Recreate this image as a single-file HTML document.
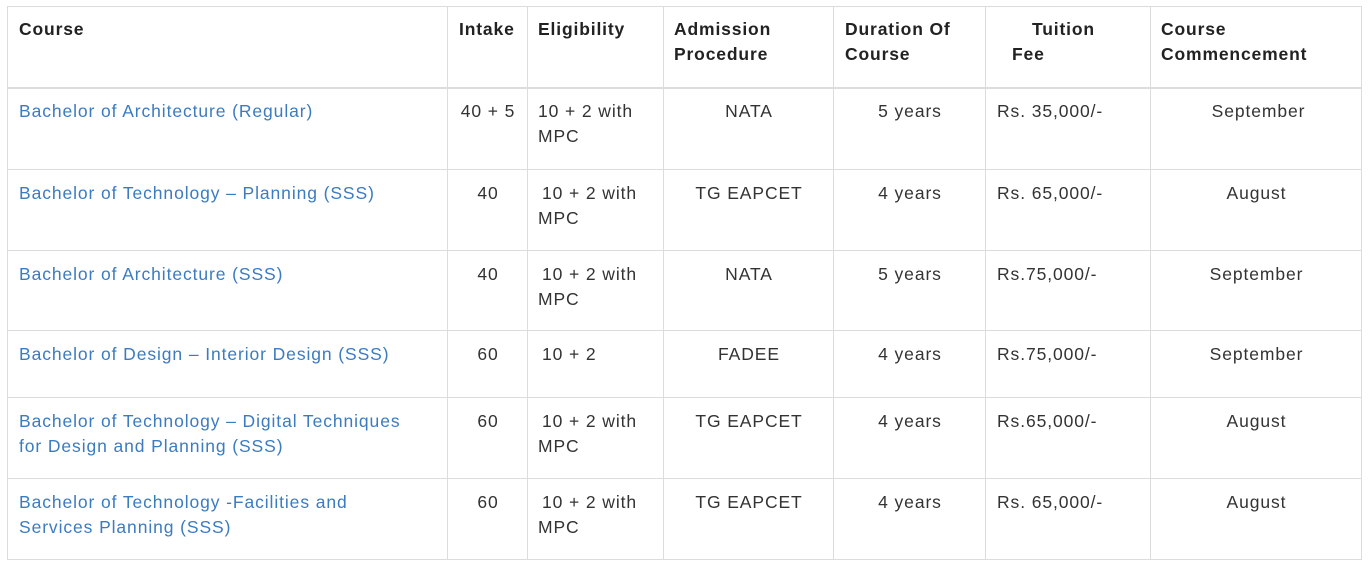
<!DOCTYPE html>
<html>
<head>
<meta charset="utf-8">
<style>
html,body{margin:0;padding:0;background:#fff;}
body{width:1370px;height:566px;position:relative;overflow:hidden;}
.h{position:absolute;height:1px;background:#dcdcdc;left:7px;width:1355px;}
.v{position:absolute;width:1px;background:#dcdcdc;top:6px;height:554px;}
.t{position:absolute;white-space:nowrap;font-family:"Liberation Sans",Arial,sans-serif;font-size:17.5px;letter-spacing:0.9px;line-height:25px;color:#333;}
.b{font-weight:bold;color:#222;letter-spacing:0.85px;}
.a{color:#3b7bc0;}
.c{text-align:center;}
</style>
</head>
<body>
<!-- horizontal lines -->
<div class="h" style="top:6px"></div>
<div class="h" style="top:87px;height:2px"></div>
<div class="h" style="top:169px"></div>
<div class="h" style="top:250px"></div>
<div class="h" style="top:330px"></div>
<div class="h" style="top:397px"></div>
<div class="h" style="top:478px"></div>
<div class="h" style="top:559px"></div>
<!-- vertical lines -->
<div class="v" style="left:7px"></div>
<div class="v" style="left:447px"></div>
<div class="v" style="left:527px"></div>
<div class="v" style="left:663px"></div>
<div class="v" style="left:833px"></div>
<div class="v" style="left:985px"></div>
<div class="v" style="left:1150px"></div>
<div class="v" style="left:1361px"></div>

<!-- header -->
<div class="t b" style="left:19px;top:17px">Course</div>
<div class="t b" style="left:459px;top:17px">Intake</div>
<div class="t b" style="left:538px;top:17px">Eligibility</div>
<div class="t b" style="left:674px;top:17px">Admission</div>
<div class="t b" style="left:674px;top:42px">Procedure</div>
<div class="t b" style="left:845px;top:17px">Duration Of</div>
<div class="t b" style="left:845px;top:42px">Course</div>
<div class="t b" style="left:1032px;top:17px">Tuition</div>
<div class="t b" style="left:1012px;top:42px">Fee</div>
<div class="t b" style="left:1161px;top:17px">Course</div>
<div class="t b" style="left:1161px;top:42px">Commencement</div>

<!-- row 1 -->
<div class="t a" style="left:19px;top:99px">Bachelor of Architecture (Regular)</div>
<div class="t c" style="left:448px;width:80px;top:99px">40 + 5</div>
<div class="t" style="left:538px;top:99px">10 + 2 with</div>
<div class="t" style="left:538px;top:124px">MPC</div>
<div class="t c" style="left:664px;width:170px;top:99px">NATA</div>
<div class="t c" style="left:834px;width:152px;top:99px">5 years</div>
<div class="t" style="left:997px;top:99px">Rs. 35,000/-</div>
<div class="t c" style="left:1153px;width:211px;top:99px">September</div>

<!-- row 2 -->
<div class="t a" style="left:19px;top:181px">Bachelor of Technology – Planning (SSS)</div>
<div class="t c" style="left:448px;width:80px;top:181px">40</div>
<div class="t" style="left:542px;top:181px">10 + 2 with</div>
<div class="t" style="left:538px;top:206px">MPC</div>
<div class="t c" style="left:664px;width:170px;top:181px">TG EAPCET</div>
<div class="t c" style="left:834px;width:152px;top:181px">4 years</div>
<div class="t" style="left:997px;top:181px">Rs. 65,000/-</div>
<div class="t c" style="left:1151px;width:211px;top:181px">August</div>

<!-- row 3 -->
<div class="t a" style="left:19px;top:262px">Bachelor of Architecture (SSS)</div>
<div class="t c" style="left:448px;width:80px;top:262px">40</div>
<div class="t" style="left:542px;top:262px">10 + 2 with</div>
<div class="t" style="left:538px;top:287px">MPC</div>
<div class="t c" style="left:664px;width:170px;top:262px">NATA</div>
<div class="t c" style="left:834px;width:152px;top:262px">5 years</div>
<div class="t" style="left:997px;top:262px">Rs.75,000/-</div>
<div class="t c" style="left:1151px;width:211px;top:262px">September</div>

<!-- row 4 -->
<div class="t a" style="left:19px;top:342px">Bachelor of Design – Interior Design (SSS)</div>
<div class="t c" style="left:448px;width:80px;top:342px">60</div>
<div class="t" style="left:542px;top:342px">10 + 2</div>
<div class="t c" style="left:664px;width:170px;top:342px">FADEE</div>
<div class="t c" style="left:834px;width:152px;top:342px">4 years</div>
<div class="t" style="left:997px;top:342px">Rs.75,000/-</div>
<div class="t c" style="left:1151px;width:211px;top:342px">September</div>

<!-- row 5 -->
<div class="t a" style="left:19px;top:409px">Bachelor of Technology – Digital Techniques</div>
<div class="t a" style="left:19px;top:434px">for Design and Planning (SSS)</div>
<div class="t c" style="left:448px;width:80px;top:409px">60</div>
<div class="t" style="left:542px;top:409px">10 + 2 with</div>
<div class="t" style="left:538px;top:434px">MPC</div>
<div class="t c" style="left:664px;width:170px;top:409px">TG EAPCET</div>
<div class="t c" style="left:834px;width:152px;top:409px">4 years</div>
<div class="t" style="left:997px;top:409px">Rs.65,000/-</div>
<div class="t c" style="left:1151px;width:211px;top:409px">August</div>

<!-- row 6 -->
<div class="t a" style="left:19px;top:490px">Bachelor of Technology -Facilities and</div>
<div class="t a" style="left:19px;top:515px">Services Planning (SSS)</div>
<div class="t c" style="left:448px;width:80px;top:490px">60</div>
<div class="t" style="left:542px;top:490px">10 + 2 with</div>
<div class="t" style="left:538px;top:515px">MPC</div>
<div class="t c" style="left:664px;width:170px;top:490px">TG EAPCET</div>
<div class="t c" style="left:834px;width:152px;top:490px">4 years</div>
<div class="t" style="left:997px;top:490px">Rs. 65,000/-</div>
<div class="t c" style="left:1151px;width:211px;top:490px">August</div>
</body>
</html>
